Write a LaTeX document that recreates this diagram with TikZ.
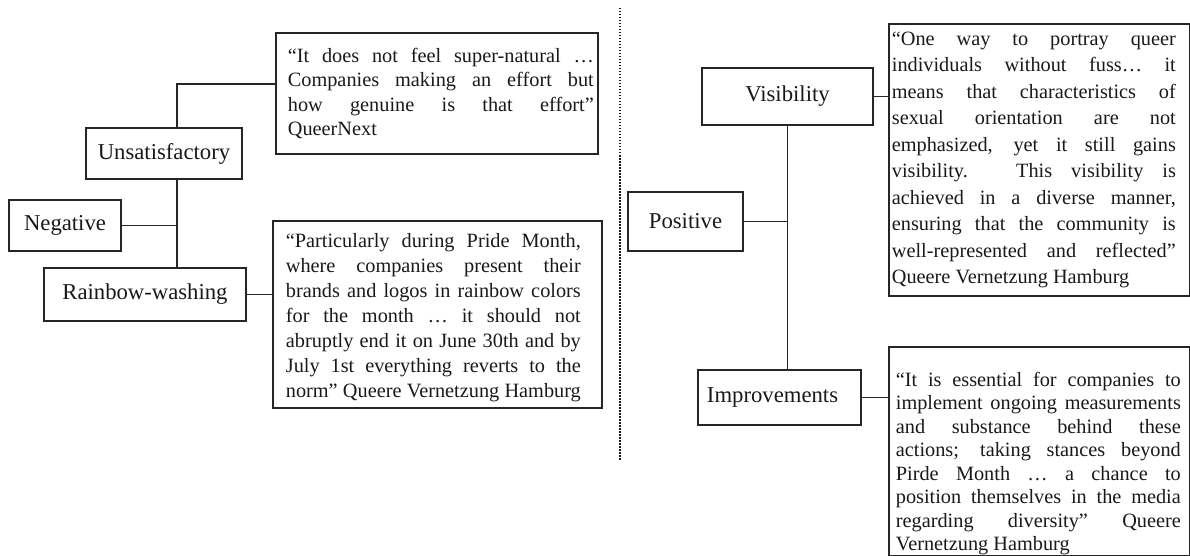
\documentclass[tikz,border=0pt]{standalone}
\usepackage{fontspec}
\setmainfont{Liberation Serif}

% a block of justified quotation lines, each with its own left/right padding
\newdimen\qpadl
\newdimen\qpadr
\newcommand\qblock[4]{\vbox{\hsize=#1\relax\qpadl=#2\relax\qpadr=#3\relax #4}}
\newcommand\qj[1]{\hbox to\hsize{\hskip\qpadl #1\hskip\qpadr}}
\newcommand\ql[1]{\hbox to\hsize{\hskip\qpadl #1\hfil}}

\begin{document}
\begin{tikzpicture}[x=1pt, y=-1pt,
  ink/.style={draw=black!85, line width=1.7pt},
  catbox/.style={ink, rectangle, inner sep=0pt, anchor=center,
    font=\fontsize{22.7}{27}\selectfont, text=black!90},
  quotebox/.style={ink, rectangle, inner sep=0pt, anchor=north west,
    font=\fontsize{20.3}{24.5}\selectfont, text=black!90},
  link/.style={draw=black!85, line width=1.5pt},
  divider/.style={draw=black!90, line width=1.6pt, dash pattern=on 1.5pt off 1.5pt}]

\useasboundingbox (0,0) rectangle (1190,556);

% ---------- negative branch ----------
\node[catbox, minimum width=112pt, minimum height=51pt] (neg) at (65,225.5) {Negative};
\node[catbox, minimum width=156pt, minimum height=51pt] (unsat) at (164,153.5) {Unsatisfactory};
\node[catbox, minimum width=202pt, minimum height=53pt] (rw) at (145,294.5) {Rainbow-washing};

\node[quotebox, minimum width=322pt, minimum height=121pt] (q1) at (275,32) {%
  \qblock{322pt}{12pt}{4pt}{%
  \qj{“It does not feel super-natural …}%
  \qj{Companies making an effort but}%
  \qj{how genuine is that effort”}%
  \ql{QueerNext}}};

\node[quotebox, minimum width=329pt, minimum height=187pt,
  font=\fontsize{20.3}{25}\selectfont] (q2) at (272,220) {%
  \qblock{329pt}{13pt}{21pt}{\vskip6pt
  \qj{“Particularly during Pride Month,}%
  \qj{where companies present their}%
  \qj{brands and logos in rainbow colors}%
  \qj{for the month … it should not}%
  \qj{abruptly end it on June 30th and by}%
  \qj{July 1st everything reverts to the}%
  \qj{norm” Queere Vernetzung Hamburg}}};

\coordinate (nk) at (177,84);
\draw[link] (unsat.north -| nk) -- (nk) -- (nk -| q1.west);
\draw[link] (unsat.south -| nk) -- (rw.north -| nk);
\draw[link] (neg.east) -- (neg.east -| nk);
\draw[link] (rw.east) -- (rw.east -| q2.west);

% ---------- divider ----------
\draw[divider] (620,8) -- (620,460);

% ---------- positive branch ----------
\node[catbox, minimum width=115pt, minimum height=59pt] (pos) at (685.5,221.5) {Positive};
\node[catbox, minimum width=171pt, minimum height=57pt] (vis) at (787.5,96.5) {Visibility};
\node[catbox, minimum width=163pt, minimum height=55pt] (imp) at (779.5,397.5) {Improvements\hspace*{14pt}};

\node[quotebox, minimum width=301pt, minimum height=272pt,
  font=\fontsize{20.3}{26.5}\selectfont] (q3) at (888,23) {%
  \qblock{301pt}{3pt}{14pt}{%
  \qj{“One way to portray queer}%
  \qj{individuals without fuss… it}%
  \qj{means that characteristics of}%
  \qj{sexual orientation are not}%
  \qj{emphasized, yet it still gains}%
  \qj{visibility. This visibility is}%
  \qj{achieved in a diverse manner,}%
  \qj{ensuring that the community is}%
  \qj{well-represented and reflected”}%
  \ql{Queere Vernetzung Hamburg}}};

\node[quotebox, minimum width=301pt, minimum height=209pt,
  font=\fontsize{20.3}{23.5}\selectfont] (q4) at (888,346) {%
  \qblock{301pt}{7pt}{9pt}{\vskip24pt
  \qj{“It is essential for companies to}%
  \qj{implement ongoing measurements}%
  \qj{and substance behind these}%
  \qj{actions; taking stances beyond}%
  \qj{Pirde Month … a chance to}%
  \qj{position themselves in the media}%
  \qj{regarding diversity” Queere}%
  \ql{Vernetzung Hamburg}}};

\draw[link] (vis.east) -- (vis.east -| q3.west);
\draw[link] (vis.south) -- (vis.south |- imp.north);
\draw[link] (pos.east) -- (pos.east -| vis.south);
\draw[link] (imp.east) -- (imp.east -| q4.west);

\end{tikzpicture}
\end{document}
